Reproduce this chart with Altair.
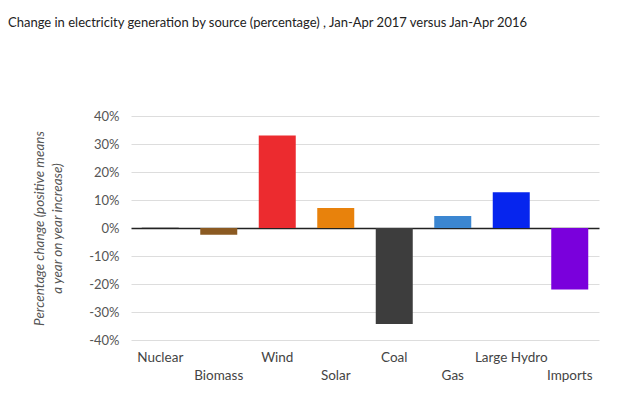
import altair as alt
import pandas as pd

sources = ["Nuclear", "Biomass", "Wind", "Solar", "Coal", "Gas", "Large Hydro", "Imports"]
changes = [0.3, -2.4, 33.0, 7.1, -34.3, 4.3, 12.8, -22.0]
colors = ["#8a8a8a", "#8B5A22", "#EC2B2F", "#E8820C", "#3D3D3D", "#3B86D1", "#0625EE", "#7A00DC"]
y_ticks = [-40, -30, -20, -10, 0, 10, 20, 30, 40]
second_row = ["Biomass", "Solar", "Gas", "Imports"]

df = pd.DataFrame({"source": sources, "change": changes})

FONT = "Lato"

bars = alt.Chart(df).mark_bar(size=37).encode(
    x=alt.X("source:N", sort=sources,
            scale=alt.Scale(paddingInner=0.37, paddingOuter=0.185),
            axis=alt.Axis(title=None, labelAngle=0, domain=False, ticks=False,
                          labelFont=FONT, labelFontSize=13.5, labelColor="#444444",
                          labelPadding={"condition": {"test": "indexof(%s, datum.value) >= 0" % str(second_row).replace("'", "\""), "value": 28}, "value": 10},
                          labelBaseline="top")),
    y=alt.Y("change:Q",
            scale=alt.Scale(domain=[-40, 40], nice=False),
            axis=alt.Axis(values=y_ticks, labelExpr="datum.value + '%'",
                          title=["Percentage change (positive means", "a year on year increase)"],
                          titleFont=FONT, titleFontSize=13.5, titleFontStyle="italic",
                          titleFontWeight="normal", titleColor="#555555", titlePadding=24,
                          titleLineHeight=18,
                          labelFont=FONT, labelFontSize=13, labelColor="#555555",
                          labelPadding=12, domain=False, ticks=False,
                          gridColor={"condition": {"test": "datum.value === 0", "value": "#222222"}, "value": "#dddddd"},
                          gridWidth={"condition": {"test": "datum.value === 0", "value": 1.4}, "value": 1})),
    color=alt.Color("source:N", scale=alt.Scale(domain=sources, range=colors), legend=None),
)

chart = bars.properties(
    width=468, height=224,
    title=alt.TitleParams(
        "Change in electricity generation by source (percentage) , Jan-Apr 2017 versus Jan-Apr 2016",
        anchor="start", frame="group", dx=-123, offset=80,
        font=FONT, fontSize=13, fontWeight="normal", color="#222222"),
    autosize=alt.AutoSizeParams(type="none"),
    padding={"left": 123, "top": 108, "right": 33, "bottom": 49},
).configure_view(stroke=None)

chart.save("out.html", embed_options={"renderer": "svg", "actions": False})
